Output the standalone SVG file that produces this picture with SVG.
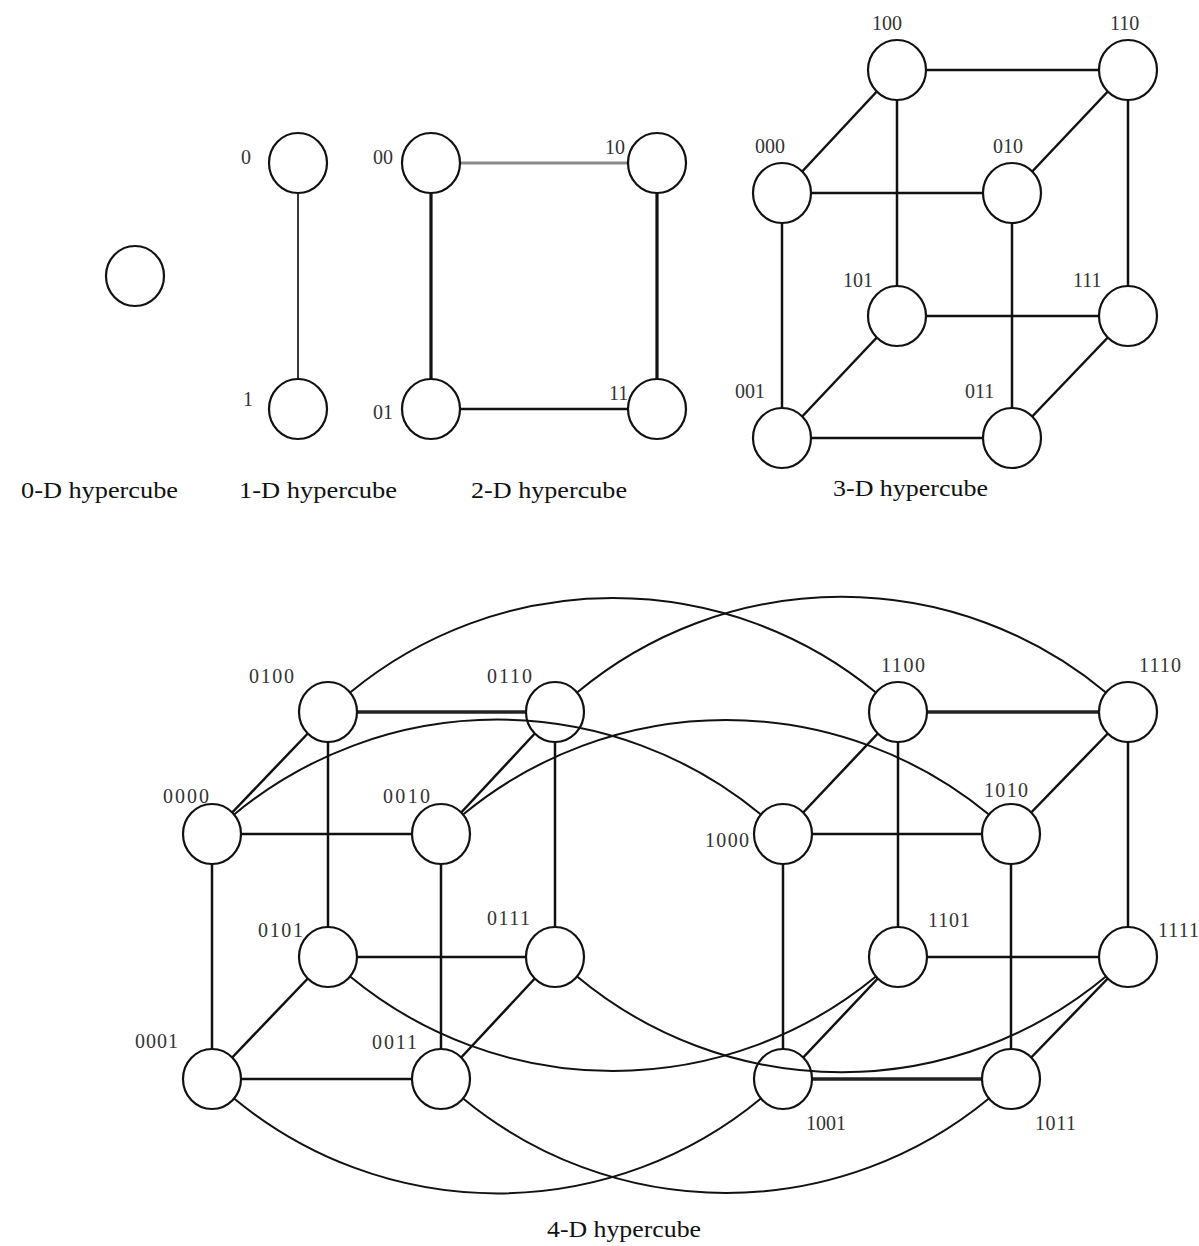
<svg xmlns="http://www.w3.org/2000/svg" width="1199" height="1246" viewBox="0 0 1199 1246">
<style>
.n{fill:none;stroke:#111;stroke-width:2.2}
.l{font-family:"Liberation Serif","Times New Roman",serif;font-size:20px;fill:#333}
.c{font-family:"Liberation Serif","Times New Roman",serif;font-size:24px;fill:#111}
.e{stroke:#111;stroke-width:2.5;fill:none}
.t{stroke:#111;stroke-width:3.2;fill:none}
.g{stroke:#8a8a8a;stroke-width:3;fill:none}
.thin{stroke:#222;stroke-width:1.8;fill:none}
.a{stroke:#111;stroke-width:2;fill:none}
.d{stroke:#222;stroke-width:3.4;fill:none}
</style>
<rect width="1199" height="1246" fill="#fff"/>
<g id="connectors">
<!-- 1-D -->
<line class="thin" x1="298" y1="193" x2="298" y2="379"/>
<!-- 2-D -->
<line class="g" x1="460" y1="163" x2="628" y2="163"/>
<line class="t" x1="431" y1="193" x2="431" y2="379"/>
<line class="t" x1="657" y1="193" x2="657" y2="379"/>
<line class="e" x1="460" y1="409" x2="628" y2="409"/>
<!-- 3-D -->
<line class="e" x1="926" y1="70" x2="1099" y2="70"/>
<line class="e" x1="876.8" y1="91.5" x2="802.2" y2="171.5"/>
<line class="e" x1="1107.8" y1="91.5" x2="1032.2" y2="171.5"/>
<line class="e" x1="811" y1="193" x2="983" y2="193"/>
<line class="e" x1="897" y1="100" x2="897" y2="286"/>
<line class="e" x1="1128" y1="100" x2="1128" y2="286"/>
<line class="e" x1="782" y1="223" x2="782" y2="408"/>
<line class="e" x1="1012" y1="223" x2="1012" y2="408"/>
<line class="e" x1="926" y1="316" x2="1099" y2="316"/>
<line class="e" x1="876.8" y1="337.5" x2="802.2" y2="416.5"/>
<line class="e" x1="1107.8" y1="337.5" x2="1032.2" y2="416.5"/>
<line class="e" x1="811" y1="438" x2="983" y2="438"/>
<!-- 4-D left cube -->
<line class="d" x1="357" y1="712" x2="526" y2="712"/>
<line class="e" x1="307.8" y1="733.5" x2="232.2" y2="812.5"/>
<line class="e" x1="534.8" y1="733.5" x2="461.2" y2="812.5"/>
<line class="e" x1="241" y1="834" x2="412" y2="834"/>
<line class="e" x1="328" y1="742" x2="328" y2="927"/>
<line class="e" x1="555" y1="742" x2="555" y2="927"/>
<line class="e" x1="212" y1="864" x2="212" y2="1049"/>
<line class="e" x1="441" y1="864" x2="441" y2="1049"/>
<line class="e" x1="357" y1="957" x2="526" y2="957"/>
<line class="e" x1="307.8" y1="978.5" x2="232.2" y2="1057.5"/>
<line class="e" x1="534.8" y1="978.5" x2="461.2" y2="1057.5"/>
<line class="e" x1="241" y1="1079" x2="412" y2="1079"/>
<!-- 4-D right cube -->
<line class="d" x1="927" y1="712" x2="1099" y2="712"/>
<line class="e" x1="877.8" y1="733.5" x2="803.2" y2="812.5"/>
<line class="e" x1="1107.8" y1="733.5" x2="1031.2" y2="812.5"/>
<line class="e" x1="812" y1="834" x2="982" y2="834"/>
<line class="e" x1="898" y1="742" x2="898" y2="927"/>
<line class="e" x1="1128" y1="742" x2="1128" y2="927"/>
<line class="e" x1="783" y1="864" x2="783" y2="1049"/>
<line class="e" x1="1011" y1="864" x2="1011" y2="1049"/>
<line class="e" x1="927" y1="957" x2="1099" y2="957"/>
<line class="e" x1="877.8" y1="978.5" x2="803.2" y2="1057.5"/>
<line class="e" x1="1107.8" y1="978.5" x2="1031.2" y2="1057.5"/>
<line class="d" x1="812" y1="1079" x2="982" y2="1079"/>
<!-- 4-D arcs between cubes -->
<path class="a" d="M350.1,692.5 A413,413 0 0 1 875.9,692.5"/>
<path class="a" d="M577.1,692.5 A413,413 0 0 1 1105.9,692.5"/>
<path class="a" d="M234.1,814.5 A413,413 0 0 1 760.9,814.5"/>
<path class="a" d="M463.1,814.5 A413,413 0 0 1 988.9,814.5"/>
<path class="a" d="M350.1,976.5 A413,413 0 0 0 875.9,976.5"/>
<path class="a" d="M577.1,976.5 A413,413 0 0 0 1105.9,976.5"/>
<path class="a" d="M234.1,1098.5 A413,413 0 0 0 760.9,1098.5"/>
<path class="a" d="M463.1,1098.5 A413,413 0 0 0 988.9,1098.5"/>
</g>
<!-- 0-D -->
<g id="d0-node"><ellipse class="n" cx="135" cy="276" rx="29" ry="30"/></g>
<!-- 1-D -->
<g id="d1-0"><ellipse class="n" cx="298" cy="163" rx="29" ry="30"/><text class="l" x="241" y="164">0</text></g>
<g id="d1-1"><ellipse class="n" cx="298" cy="409" rx="29" ry="30"/><text class="l" x="243" y="406">1</text></g>
<!-- 2-D -->
<g id="d2-00"><ellipse class="n" cx="431" cy="163" rx="29" ry="30"/><text class="l" x="373" y="164">00</text></g>
<g id="d2-10"><ellipse class="n" cx="657" cy="163" rx="29" ry="30"/><text class="l" x="605" y="154">10</text></g>
<g id="d2-01"><ellipse class="n" cx="431" cy="409" rx="29" ry="30"/><text class="l" x="373" y="419">01</text></g>
<g id="d2-11"><ellipse class="n" cx="657" cy="409" rx="29" ry="30"/><text class="l" x="609" y="400">11</text></g>
<!-- 3-D -->
<g id="d3-100"><ellipse class="n" cx="897" cy="70" rx="29" ry="30"/><text class="l" x="872" y="30">100</text></g>
<g id="d3-110"><ellipse class="n" cx="1128" cy="70" rx="29" ry="30"/><text class="l" x="1110" y="30">110</text></g>
<g id="d3-000"><ellipse class="n" cx="782" cy="193" rx="29" ry="30"/><text class="l" x="755" y="153">000</text></g>
<g id="d3-010"><ellipse class="n" cx="1012" cy="193" rx="29" ry="30"/><text class="l" x="993" y="153">010</text></g>
<g id="d3-101"><ellipse class="n" cx="897" cy="316" rx="29" ry="30"/><text class="l" x="843" y="287">101</text></g>
<g id="d3-111"><ellipse class="n" cx="1128" cy="316" rx="29" ry="30"/><text class="l" x="1073" y="287">111</text></g>
<g id="d3-001"><ellipse class="n" cx="782" cy="438" rx="29" ry="30"/><text class="l" x="735" y="398">001</text></g>
<g id="d3-011"><ellipse class="n" cx="1012" cy="438" rx="29" ry="30"/><text class="l" x="965" y="398">011</text></g>
<!-- 4-D -->
<g id="d4-0100"><ellipse class="n" cx="328" cy="712" rx="29" ry="30"/><text class="l" x="249" y="683" textLength="45">0100</text></g>
<g id="d4-0110"><ellipse class="n" cx="555" cy="712" rx="29" ry="30"/><text class="l" x="487" y="683" textLength="45">0110</text></g>
<g id="d4-1100"><ellipse class="n" cx="898" cy="712" rx="29" ry="30"/><text class="l" x="881" y="672" textLength="44">1100</text></g>
<g id="d4-1110"><ellipse class="n" cx="1128" cy="712" rx="29" ry="30"/><text class="l" x="1139" y="672" textLength="42">1110</text></g>
<g id="d4-0000"><ellipse class="n" cx="212" cy="834" rx="29" ry="30"/><text class="l" x="163" y="803" textLength="46">0000</text></g>
<g id="d4-0010"><ellipse class="n" cx="441" cy="834" rx="29" ry="30"/><text class="l" x="383" y="803" textLength="47">0010</text></g>
<g id="d4-1000"><ellipse class="n" cx="783" cy="834" rx="29" ry="30"/><text class="l" x="705" y="847" textLength="44">1000</text></g>
<g id="d4-1010"><ellipse class="n" cx="1011" cy="834" rx="29" ry="30"/><text class="l" x="984" y="797" textLength="44">1010</text></g>
<g id="d4-0101"><ellipse class="n" cx="328" cy="957" rx="29" ry="30"/><text class="l" x="258" y="937" textLength="45">0101</text></g>
<g id="d4-0111"><ellipse class="n" cx="555" cy="957" rx="29" ry="30"/><text class="l" x="487" y="925" textLength="43">0111</text></g>
<g id="d4-1101"><ellipse class="n" cx="898" cy="957" rx="29" ry="30"/><text class="l" x="928" y="927" textLength="42">1101</text></g>
<g id="d4-1111"><ellipse class="n" cx="1128" cy="957" rx="29" ry="30"/><text class="l" x="1158" y="937" textLength="41">1111</text></g>
<g id="d4-0001"><ellipse class="n" cx="212" cy="1079" rx="29" ry="30"/><text class="l" x="135" y="1048" textLength="43">0001</text></g>
<g id="d4-0011"><ellipse class="n" cx="441" cy="1079" rx="29" ry="30"/><text class="l" x="372" y="1049" textLength="45">0011</text></g>
<g id="d4-1001"><ellipse class="n" cx="783" cy="1079" rx="29" ry="30"/><text class="l" x="806" y="1130" textLength="40">1001</text></g>
<g id="d4-1011"><ellipse class="n" cx="1011" cy="1079" rx="29" ry="30"/><text class="l" x="1035" y="1130" textLength="41">1011</text></g>
<!-- captions -->
<g id="captions">
<text class="c" x="21" y="498" textLength="157" lengthAdjust="spacingAndGlyphs">0-D hypercube</text>
<text class="c" x="239" y="498" textLength="158" lengthAdjust="spacingAndGlyphs">1-D hypercube</text>
<text class="c" x="471" y="498" textLength="156" lengthAdjust="spacingAndGlyphs">2-D hypercube</text>
<text class="c" x="833" y="496" textLength="155" lengthAdjust="spacingAndGlyphs">3-D hypercube</text>
<text class="c" x="547" y="1237" textLength="154" lengthAdjust="spacingAndGlyphs">4-D hypercube</text>
</g>
</svg>
